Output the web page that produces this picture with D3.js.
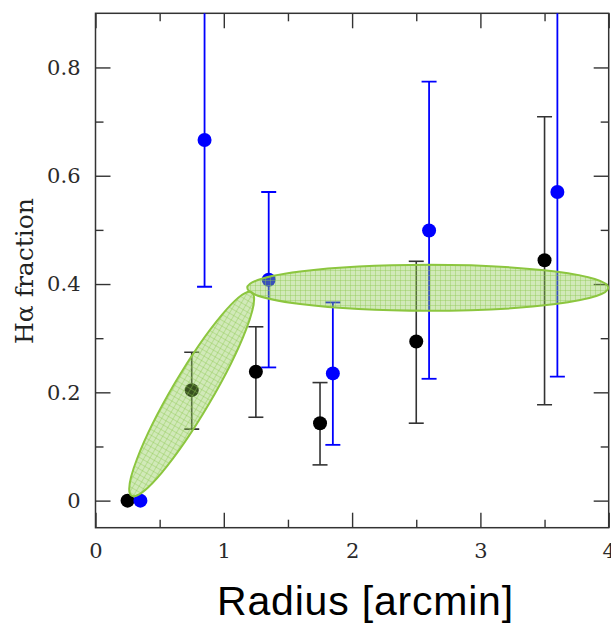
<!DOCTYPE html>
<html>
<head>
<meta charset="utf-8">
<script src="https://cdn.jsdelivr.net/npm/d3@7"></script>
<style>
  html, body { margin: 0; padding: 0; background: #fff; }
  svg { display: block; }
</style>
</head>
<body>
<svg id="chart" width="611" height="623"></svg>
<script>
// Hα fraction versus projected radius, two samples with asymmetric error bars
const radiusBlack = [0.25, 0.75, 1.25, 1.75, 2.5, 3.5];
const fracBlack   = [0.0, 0.204, 0.238, 0.143, 0.294, 0.444];
const lowBlack    = [0.0, 0.132, 0.154, 0.066, 0.143, 0.177];
const highBlack   = [0.0, 0.274, 0.321, 0.218, 0.442, 0.709];

const radiusBlue  = [0.35, 0.85, 1.35, 1.85, 2.6, 3.6];
const fracBlue    = [0.0, 0.666, 0.408, 0.235, 0.499, 0.570];
const lowBlue     = [0.0, 0.395, 0.246, 0.103, 0.225, 0.229];
const highBlue    = [0.0, 1.0, 0.570, 0.366, 0.774, 1.0];

// Highlighted trend regions: [x1, y1, x2, y2] end points of each ellipse's long axis
const trendRegions = [
  [0.282, 0.009, 1.217, 0.385],
  [1.183, 0.393, 3.997, 0.393]
];
const trendHalfWidth = [20, 23];

const xMajor = [0, 1, 2, 3, 4];
const xMinor = [0.5, 1.5, 2.5, 3.5];
const yMajor = [0, 0.2, 0.4, 0.6, 0.8];
const yMinor = [0.1, 0.3, 0.5, 0.7];

const svg = d3.select("#chart");
const plotLeft = 95.5, plotRight = 608.7, plotTop = 13.3, plotBottom = 527.7;

const x = d3.scaleLinear().domain([0, 4]).range([plotLeft, plotRight]);
const y = d3.scaleLinear().domain([-0.05, 0.9]).range([plotBottom, plotTop]);

const defs = svg.append("defs");
defs.append("clipPath").attr("id", "plotClip")
  .append("rect").attr("x", plotLeft).attr("y", plotTop)
  .attr("width", plotRight - plotLeft).attr("height", plotBottom - plotTop);

const pat = defs.append("pattern").attr("id", "grid")
  .attr("patternUnits", "userSpaceOnUse").attr("width", 5).attr("height", 5);
pat.append("rect").attr("width", 5).attr("height", 5)
  .attr("fill", "#8cc850").attr("fill-opacity", 0.4);
pat.append("path").attr("d", "M0,0.5H5M0.5,0V5")
  .attr("stroke", "#8cc850").attr("stroke-opacity", 0.4).attr("stroke-width", 1);

const fmt = d => (d === 0 ? "0" : d3.format(".1f")(d));
const tickFont = "'DejaVu Serif', serif";

function styleAxis(g) {
  g.select(".domain").remove();
  g.selectAll("line").attr("stroke", "#333").attr("stroke-width", 1.4);
  g.selectAll("text").attr("font-family", tickFont).attr("font-size", 21).attr("fill", "#2a2a2a");
}

// Bottom and left axes with labels, top and right with ticks only
svg.append("g").attr("transform", `translate(0,${plotBottom})`)
  .call(d3.axisBottom(x).tickValues(xMajor).tickSize(-15).tickPadding(15).tickFormat(d3.format("d")))
  .call(styleAxis);
svg.append("g").attr("transform", `translate(0,${plotBottom})`)
  .call(d3.axisBottom(x).tickValues(xMinor).tickSize(-8).tickFormat(""))
  .call(styleAxis);
svg.append("g").attr("transform", `translate(0,${plotTop})`)
  .call(d3.axisTop(x).tickValues(xMajor).tickSize(-15).tickFormat(""))
  .call(styleAxis);
svg.append("g").attr("transform", `translate(0,${plotTop})`)
  .call(d3.axisTop(x).tickValues(xMinor).tickSize(-8).tickFormat(""))
  .call(styleAxis);

svg.append("g").attr("transform", `translate(${plotLeft},0)`)
  .call(d3.axisLeft(y).tickValues(yMajor).tickSize(-15).tickPadding(15).tickFormat(fmt))
  .call(styleAxis);
svg.append("g").attr("transform", `translate(${plotLeft},0)`)
  .call(d3.axisLeft(y).tickValues(yMinor).tickSize(-8).tickFormat(""))
  .call(styleAxis);
svg.append("g").attr("transform", `translate(${plotRight},0)`)
  .call(d3.axisRight(y).tickValues(yMajor).tickSize(-15).tickFormat(""))
  .call(styleAxis);
svg.append("g").attr("transform", `translate(${plotRight},0)`)
  .call(d3.axisRight(y).tickValues(yMinor).tickSize(-8).tickFormat(""))
  .call(styleAxis);

// Frame
svg.append("rect").attr("x", plotLeft).attr("y", plotTop)
  .attr("width", plotRight - plotLeft).attr("height", plotBottom - plotTop)
  .attr("fill", "none").attr("stroke", "#333").attr("stroke-width", 1.5);

const plot = svg.append("g").attr("clip-path", "url(#plotClip)");

function drawSeries(xs, ys, lo, hi, barColor, dotColor, barWidth) {
  const pts = xs.map((d, i) => ({ x: d, y: ys[i], lo: lo[i], hi: hi[i] }));
  const bars = pts.filter(p => p.hi > p.lo);
  const g = plot.append("g");
  g.selectAll(".bar").data(bars).join("line")
    .attr("x1", p => x(p.x)).attr("x2", p => x(p.x))
    .attr("y1", p => y(p.lo)).attr("y2", p => y(p.hi))
    .attr("stroke", barColor).attr("stroke-width", barWidth);
  const caps = bars.flatMap(p => [{ x: p.x, v: p.lo }, { x: p.x, v: p.hi }]);
  g.selectAll(".cap").data(caps).join("line")
    .attr("x1", c => x(c.x) - 7.5).attr("x2", c => x(c.x) + 7.5)
    .attr("y1", c => y(c.v)).attr("y2", c => y(c.v))
    .attr("stroke", barColor).attr("stroke-width", barWidth);
  g.selectAll("circle").data(pts).join("circle")
    .attr("cx", p => x(p.x)).attr("cy", p => y(p.y)).attr("r", 7)
    .attr("fill", dotColor);
}

drawSeries(radiusBlack, fracBlack, lowBlack, highBlack, "#333", "#000", 1.6);
drawSeries(radiusBlue, fracBlue, lowBlue, highBlue, "#0000ff", "#0000ff", 1.8);

// Shaded ellipses over the two regimes
const ell = svg.append("g");
trendRegions.forEach((r, i) => {
  const x1 = x(r[0]), y1 = y(r[1]), x2 = x(r[2]), y2 = y(r[3]);
  const cx = (x1 + x2) / 2, cy = (y1 + y2) / 2;
  const rx = Math.hypot(x2 - x1, y2 - y1) / 2;
  const ang = Math.atan2(y2 - y1, x2 - x1) * 180 / Math.PI;
  ell.append("ellipse")
    .attr("cx", cx).attr("cy", cy).attr("rx", rx).attr("ry", trendHalfWidth[i])
    .attr("transform", `rotate(${ang},${cx},${cy})`)
    .attr("fill", "url(#grid)")
    .attr("stroke", "#8cc63f").attr("stroke-width", 2);
});

// Axis titles
svg.append("text")
  .attr("transform", `translate(33,271) rotate(-90)`)
  .attr("text-anchor", "middle")
  .attr("font-family", tickFont).attr("font-size", 25).attr("fill", "#222")
  .text("Hα fraction");

svg.append("text")
  .attr("x", 365.5).attr("y", 615)
  .attr("text-anchor", "middle")
  .attr("font-family", "'Liberation Sans', Arial, sans-serif")
  .attr("font-size", 41).attr("letter-spacing", 0.8).attr("fill", "#000")
  .text("Radius [arcmin]");
</script>
</body>
</html>
